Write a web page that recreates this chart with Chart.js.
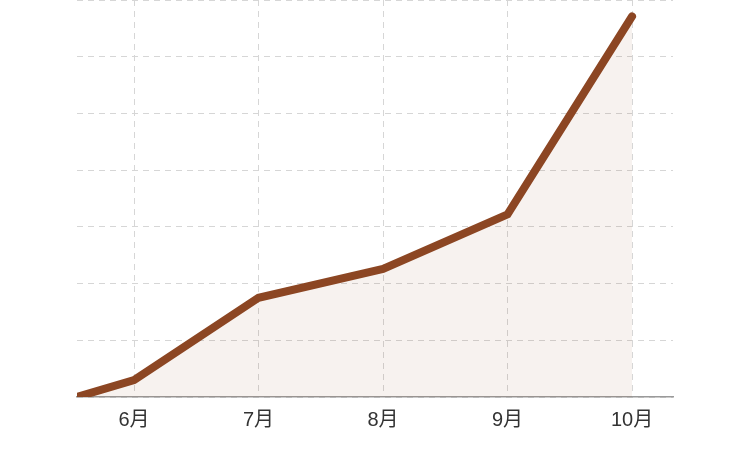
<!DOCTYPE html>
<html>
<head>
<meta charset="utf-8">
<script src="https://cdn.jsdelivr.net/npm/chart.js@4"></script>
<style>
  html, body { margin: 0; padding: 0; background: #fff; }
  .chart-wrapper { width: 751px; height: 450px; }
</style>
</head>
<body>
<div class="chart-wrapper">
  <canvas id="chart" width="751" height="450"></canvas>
</div>
<script>
// month positions along the bottom (first point sits at the left edge)
const months = [5.542, 6, 7, 8, 9, 10];
const monthLabels = ['6月', '7月', '8月', '9月', '10月'];
const values = [0, 3.0, 17.5, 22.6, 32.2, 67.1];

const lineColor = 'rgb(140, 70, 35)';

new Chart(document.getElementById('chart'), {
  type: 'line',
  data: {
    datasets: [{
      data: months.map((m, i) => ({ x: m, y: values[i] })),
      borderColor: lineColor,
      backgroundColor: 'rgba(140, 70, 35, 0.07)',
      borderWidth: 8,
      borderCapStyle: 'round',
      fill: 'origin',
      pointRadius: 0,
      tension: 0
    }]
  },
  options: {
    responsive: false,
    animation: false,
    layout: { padding: { left: 77, right: 78, top: 0, bottom: 7 } },
    plugins: { legend: { display: false }, tooltip: { enabled: false } },
    scales: {
      x: {
        type: 'linear',
        min: 5.542,
        max: 10.329,
        afterBuildTicks: s => { s.ticks = [6, 7, 8, 9, 10].map(v => ({ value: v })); },
        ticks: {
          callback: v => monthLabels[v - 6],
          color: '#333',
          font: { size: 20, family: '"Liberation Sans", "Noto Sans CJK SC", sans-serif' },
          padding: 11,
          autoSkip: false,
          maxRotation: 0
        },
        grid: { color: '#d6d6d6', drawTicks: false },
        border: { color: '#9a9a9a', width: 1.5, dash: [6, 5] }
      },
      y: {
        min: 0,
        max: 70,
        ticks: { display: false, stepSize: 10 },
        grid: { color: '#d6d6d6', drawTicks: false },
        border: { display: false, dash: [6, 5] }
      }
    }
  }
});
</script>
</body>
</html>
